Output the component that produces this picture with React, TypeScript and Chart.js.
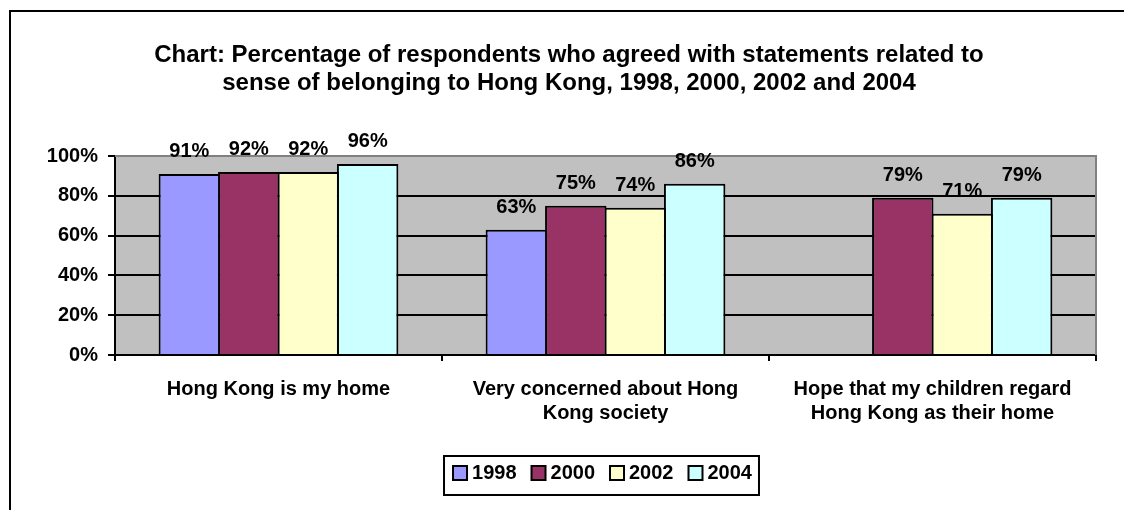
import React, { useEffect, useRef } from "react";
import { Chart, registerables } from "chart.js";

Chart.register(...registerables);

const FONT_FAMILY = '"Liberation Sans", Arial, Helvetica, sans-serif';

const titleLines = [
  "Chart: Percentage of respondents who agreed with statements related to",
  "sense of belonging to Hong Kong, 1998, 2000, 2002 and 2004",
];
const categories = [
  ["Hong Kong is my home"],
  ["Very concerned about Hong", "Kong society"],
  ["Hope that my children regard", "Hong Kong as their home"],
];
const seriesNames = ["1998", "2000", "2002", "2004"];
const values1998 = [91, 63, null];
const values2000 = [92, 75, 79];
const values2002 = [92, 74, 71];
const values2004 = [96, 86, 79];
const seriesValues = [values1998, values2000, values2002, values2004];
const seriesColors = ["#9999FF", "#993366", "#FFFFCC", "#CCFFFF"];
const yTickValues = [0, 20, 40, 60, 80, 100];
const yTickLabels = ["0%", "20%", "40%", "60%", "80%", "100%"];

const LEGEND_SHIFT = 36;
const LEGEND_TOP = 443;

const framePlugin = {
  id: "frame",
  beforeDraw(chart: any) {
    const { ctx, chartArea: a } = chart;
    ctx.save();
    ctx.fillStyle = "#ffffff";
    ctx.fillRect(0, 0, chart.width, chart.height);
    ctx.fillStyle = "#000000";
    ctx.fillRect(9, 10, 2, chart.height - 10);
    ctx.fillRect(9, 10, chart.width - 9, 2);
    ctx.fillStyle = "#C0C0C0";
    ctx.fillRect(a.left, a.top, a.right - a.left, a.bottom - a.top);
    ctx.restore();
  },
  beforeDatasetsDraw(chart: any) {
    const { ctx, chartArea: a } = chart;
    ctx.save();
    ctx.strokeStyle = "#808080";
    ctx.lineWidth = 2;
    ctx.beginPath();
    ctx.moveTo(a.left, a.top);
    ctx.lineTo(a.right, a.top);
    ctx.lineTo(a.right, a.bottom);
    ctx.stroke();
    ctx.restore();
  },
};

const valueLabelPlugin = {
  id: "valueLabels",
  afterDatasetsDraw(chart: any) {
    const ctx = chart.ctx;
    ctx.save();
    ctx.font = `bold 20px ${FONT_FAMILY}`;
    ctx.fillStyle = "#000000";
    ctx.textAlign = "center";
    ctx.textBaseline = "alphabetic";
    chart.data.datasets.forEach((ds: any, di: number) => {
      const meta = chart.getDatasetMeta(di);
      meta.data.forEach((bar: any, i: number) => {
        const v = ds.data[i];
        if (v == null) return;
        ctx.fillText(`${v}%`, bar.x, bar.y - 17);
      });
    });
    ctx.restore();
  },
};

const legendPlugin = {
  id: "legendFrame",
  afterLayout(chart: any) {
    const lg = chart.legend;
    if (!lg) return;
    lg.left += LEGEND_SHIFT;
    lg.right += LEGEND_SHIFT;
    const h = lg.height;
    lg.top = LEGEND_TOP;
    lg.bottom = LEGEND_TOP + h;
  },
  afterDraw(chart: any) {
    const lg = chart.legend;
    if (!lg || !lg.legendHitBoxes || !lg.legendHitBoxes.length) return;
    const hb = lg.legendHitBoxes;
    const first = hb[0];
    const last = hb[hb.length - 1];
    const ctx = chart.ctx;
    const cy = first.top + 10;
    const left = first.left - 14;
    const right = last.left + last.width + 7;
    ctx.save();
    ctx.strokeStyle = "#000000";
    ctx.lineWidth = 2;
    ctx.strokeRect(left, cy - 17, right - left, 39);
    ctx.restore();
  },
};

export default function App() {
  const ref = useRef<HTMLCanvasElement>(null);
  useEffect(() => {
    const canvas = ref.current;
    if (!canvas) return;
    const boldFont = { family: FONT_FAMILY, size: 20, weight: "bold" as const, lineHeight: 1.2 };
    const chart = new Chart(canvas, {
      type: "bar",
      data: {
        labels: categories as any,
        datasets: seriesNames.map((name, i) => ({
          label: name,
          data: seriesValues[i] as any,
          backgroundColor: seriesColors[i],
          borderColor: "#000000",
          borderWidth: 2,
          barPercentage: 1.034,
          categoryPercentage: 0.727,
        })),
      },
      options: {
        responsive: false,
        animation: false,
        devicePixelRatio: 1,
        layout: { padding: { left: 42, right: 28, top: 0, bottom: 19 } },
        scales: {
          x: {
            offset: true,
            grid: {
              offset: true,
              drawOnChartArea: false,
              drawTicks: true,
              tickLength: 6,
              tickColor: "#000000",
              tickWidth: 2,
              lineWidth: 2,
              color: "#000000",
            },
            border: { display: true, color: "#000000", width: 2 },
            ticks: {
              font: boldFont,
              color: "#000000",
              padding: 16,
              maxRotation: 0,
              minRotation: 0,
              autoSkip: false,
            },
          },
          y: {
            min: 0,
            max: 100,
            afterFit: (s: any) => {
              s.width = 73;
            },
            afterBuildTicks: (s: any) => {
              s.ticks = yTickValues.map((v) => ({ value: v }));
            },
            ticks: {
              font: boldFont,
              color: "#000000",
              padding: 10,
              callback: (_v: any, i: number) => yTickLabels[i],
            },
            grid: {
              color: (c: any) => (c.tick && c.tick.value === 100 ? "#808080" : "#000000"),
              lineWidth: 2,
              tickLength: 7,
              tickColor: "#000000",
              tickWidth: 2,
            },
            border: { display: true, color: "#000000", width: 2 },
          },
        },
        plugins: {
          title: {
            display: true,
            text: titleLines,
            color: "#000000",
            font: { family: FONT_FAMILY, size: 24, weight: "bold", lineHeight: 28 / 24 },
            padding: { top: 41, bottom: 59 },
          },
          legend: {
            display: true,
            position: "bottom",
            labels: {
              usePointStyle: true,
              pointStyle: "rect",
              boxWidth: 4,
              boxHeight: 14,
              padding: 20,
              color: "#000000",
              font: { family: FONT_FAMILY, size: 20, weight: "bold" },
            },
          },
          tooltip: { enabled: false },
        },
      },
      plugins: [framePlugin, valueLabelPlugin, legendPlugin],
    });
    return () => chart.destroy();
  }, []);

  return (
    <div style={{ position: "fixed", left: 0, top: 0, width: 1124, height: 510, background: "#fff" }}>
      <canvas ref={ref} width={1124} height={510} style={{ display: "block", width: 1124, height: 510 }} />
    </div>
  );
}
